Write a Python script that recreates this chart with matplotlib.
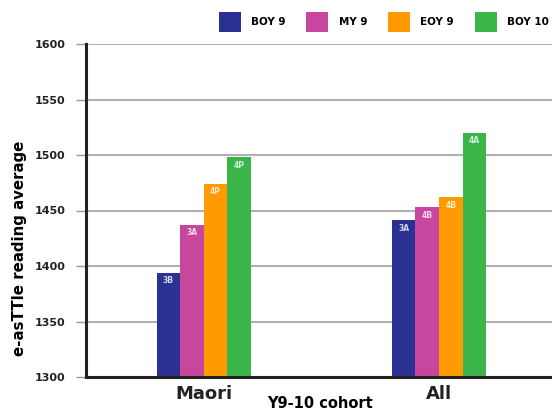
import matplotlib
matplotlib.use("Agg")
import matplotlib.pyplot as plt
from matplotlib.patches import Patch
import numpy as np

# data
groups = ["Maori", "All"]
series = ["BOY 9", "MY 9", "EOY 9", "BOY 10"]
colors = ["#2b3192", "#c6479d", "#ff9a00", "#3bb54a"]
boy9 = [1394, 1441]
my9 = [1437, 1453]
eoy9 = [1474, 1462]
boy10 = [1498, 1520]
lab_boy9 = ["3B", "3A"]
lab_my9 = ["3A", "4B"]
lab_eoy9 = ["4P", "4B"]
lab_boy10 = ["4P", "4A"]
yticks = [1300, 1350, 1400, 1450, 1500, 1550, 1600]

values = [boy9, my9, eoy9, boy10]
curric = [lab_boy9, lab_my9, lab_eoy9, lab_boy10]

fig = plt.figure(figsize=(5.52, 4.12), dpi=100)
ax = fig.add_axes([86 / 552, 1 - 377 / 412, 1 - 86 / 552, (377 - 44) / 412])

x = np.arange(len(groups))
w = 0.1
for i, (vals, labs) in enumerate(zip(values, curric)):
    pos = x + (i - 1.5) * w
    ax.bar(pos, [v - 1300 for v in vals], w, bottom=1300, color=colors[i],
           zorder=3, label=series[i])
    for px, v, t in zip(pos, vals, labs):
        ax.annotate(t, (px, v), xytext=(0, -2.5), textcoords="offset points",
                    ha="center", va="top", fontsize=5.5, fontweight="bold",
                    color="white", alpha=0.8, zorder=4)

ax.set_ylim(1300, 1600)
ax.set_xlim(-0.5, 1.48)
ax.set_yticks(yticks)
ax.set_xticks(x)
ax.set_xticklabels(groups, fontsize=13, fontweight="bold", color="#222222")
ax.tick_params(axis="x", length=0, pad=6)
ax.tick_params(axis="y", length=7, width=1, color="#999999", pad=8,
               labelsize=8, labelcolor="#222222")
for t in ax.get_yticklabels():
    t.set_fontweight("bold")

ax.grid(axis="y", color="#b0b0b0", linewidth=1.5, zorder=0)
ax.set_axisbelow(True)
for s in ["top", "right"]:
    ax.spines[s].set_visible(False)
for s in ["left", "bottom"]:
    ax.spines[s].set_color("#222222")
    ax.spines[s].set_linewidth(2.2)
    ax.spines[s].set_zorder(5)

fig.text(20 / 552, 1 - 248 / 412, "e-asTTle reading average", rotation=90,
         ha="center", va="center", fontsize=10.8, fontweight="bold")
fig.text(320 / 552, 1 - 404 / 412, "Y9-10 cohort", ha="center", va="center",
         fontsize=10.5, fontweight="bold")

handles = [Patch(facecolor=c, edgecolor="none") for c in colors]
fig.legend(handles, series, loc="center right", ncol=4, frameon=False,
           bbox_to_anchor=(549 / 552, 1 - 22 / 412), borderaxespad=0,
           borderpad=0, prop={"size": 7.5, "weight": "bold"},
           handlelength=2.1, handleheight=2.5, handletextpad=1.0,
           columnspacing=2.0)

fig.savefig("out.png", dpi=100)
